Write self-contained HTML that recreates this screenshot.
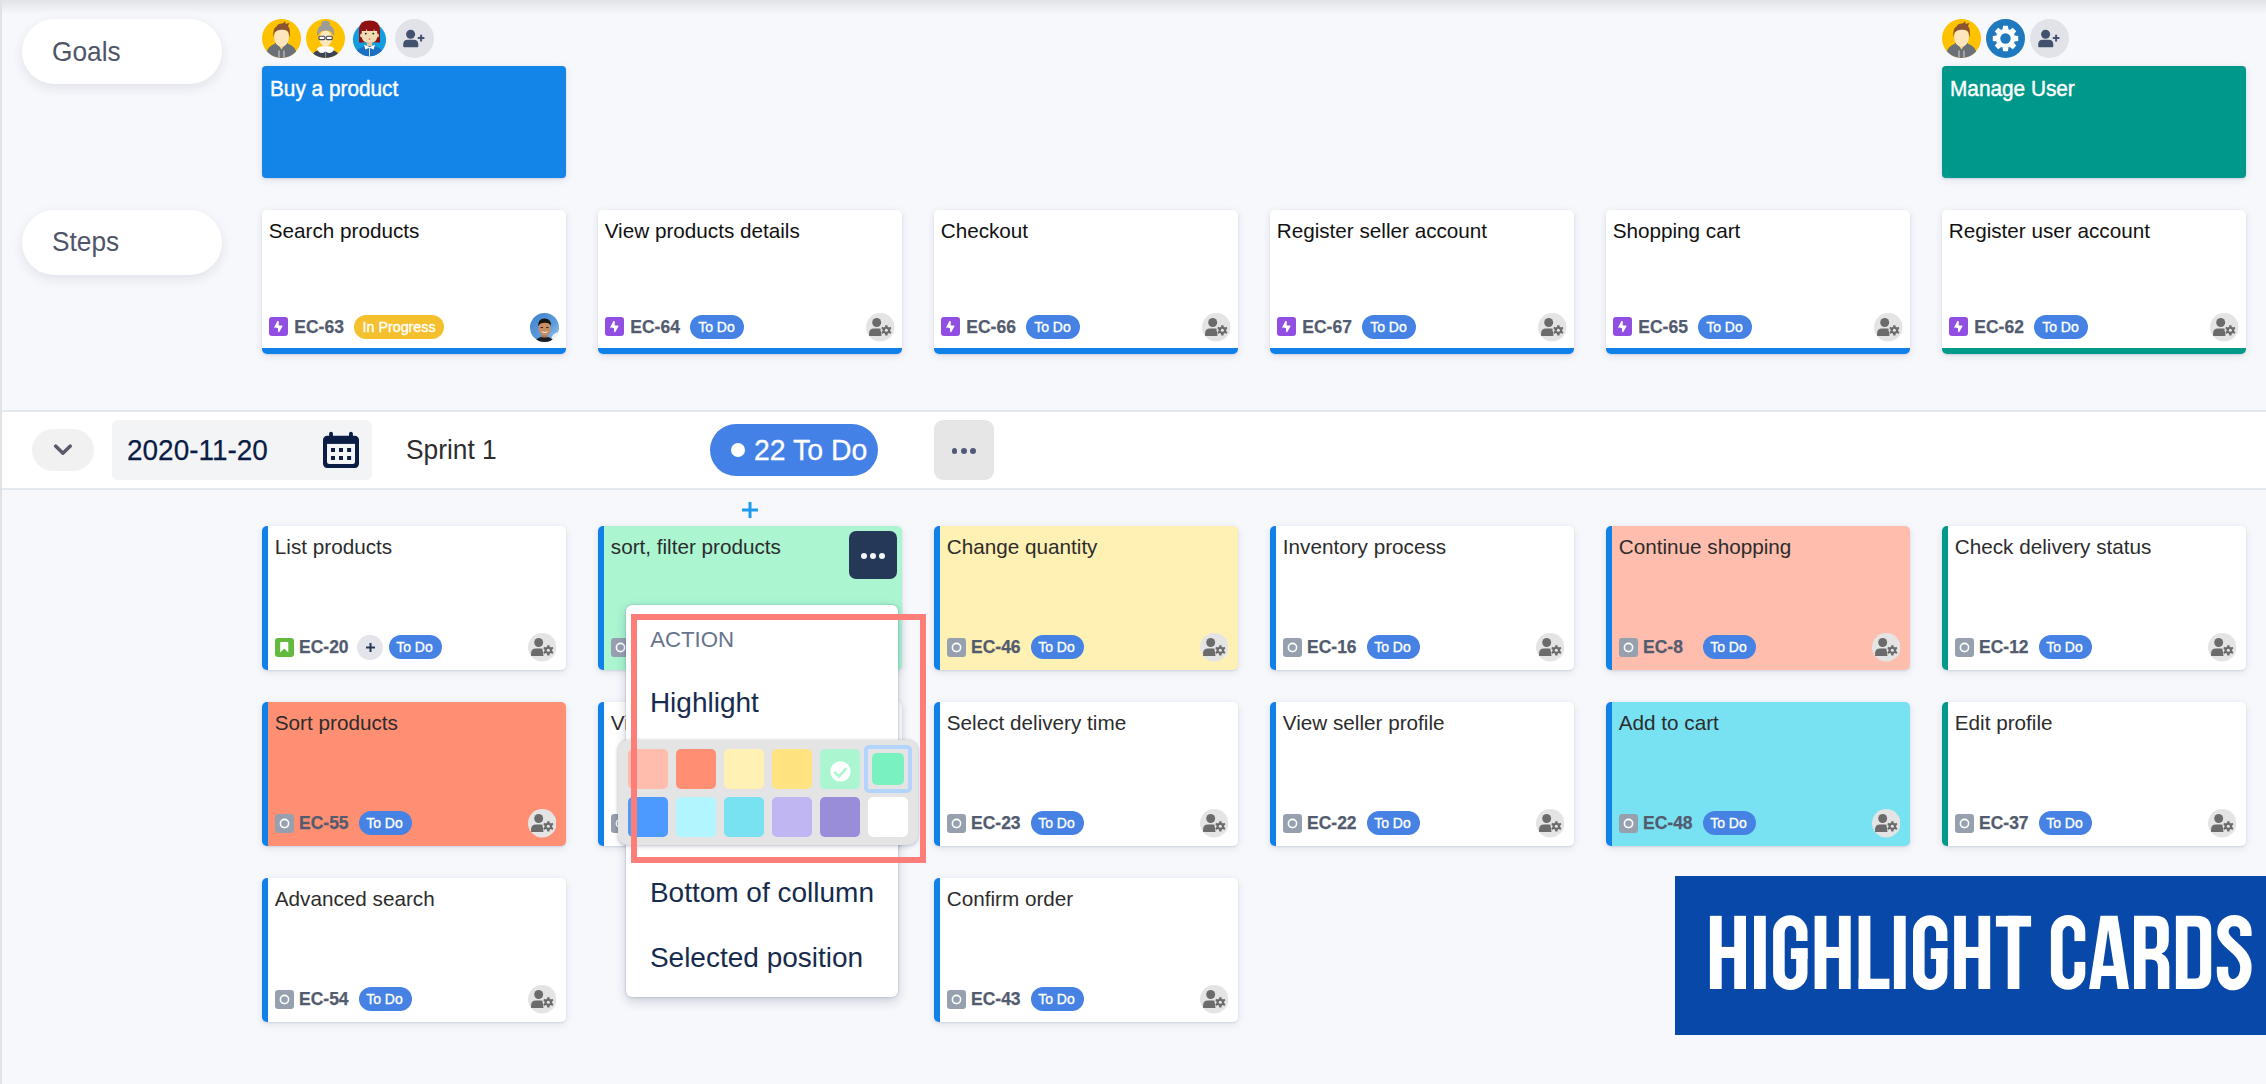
<!DOCTYPE html><html><head><meta charset="utf-8"><title>Story map</title><style>
*{box-sizing:border-box}
html,body{margin:0;padding:0}
body{width:2266px;height:1084px;overflow:hidden;background:#F7F8FC;position:relative;font-family:"Liberation Sans",sans-serif}
.t{position:absolute;line-height:1;white-space:nowrap}
.a{position:absolute;display:block}
.box{position:absolute}
.card{position:absolute;width:304px;height:144px;border-radius:5px;background:#fff;box-shadow:0 1px 2px rgba(9,30,66,.10),0 2px 9px rgba(9,30,66,.10)}
.pill{position:absolute;border-radius:12px;color:#fff;text-align:center;white-space:nowrap;font-family:"Liberation Sans",sans-serif}
.lp{position:absolute;left:22px;width:200px;height:65px;border-radius:33px;background:#fff;box-shadow:0 4px 12px rgba(30,40,80,.10)}

</style></head><body>
<div class="box" style="left:0;top:0;width:2px;height:1084px;background:#E2E2E5"></div>
<div class="box" style="left:2px;top:0;width:2264px;height:14px;background:linear-gradient(#E2E3E7,rgba(247,248,252,0))"></div>
<div class="lp" style="top:19px"></div>
<div class="t" style="left:52.2px;top:37.92px;font-size:27.5px;color:#4F5568;transform-origin:0 0;transform:scaleX(0.955);">Goals</div>
<div class="lp" style="top:210px"></div>
<div class="t" style="left:52.4px;top:227.72px;font-size:27.5px;color:#4F5568;transform-origin:0 0;transform:scaleX(0.955);">Steps</div>
<svg class="a" style="left:262px;top:19px" width="39" height="39" viewBox="0 0 39 39"><defs><clipPath id="c262"><circle cx="19.5" cy="19.5" r="19.5"/></clipPath></defs><g clip-path="url(#c262)"><rect width="39" height="39" fill="#FFC200"/><path d="M3.5 39 L4.5 33 Q6.5 27 12.5 25 L14.5 22.5 L19.5 30.5 L24.5 22.5 L26.5 25 Q32.5 27 34.5 33 L35.5 39 Z" fill="#6B7176"/><path d="M15.2 23.5 L19.5 30.5 L23.8 23.5 L23.8 21 L15.2 21 Z" fill="#F2CC98"/><ellipse cx="19.5" cy="18.4" rx="7.4" ry="9.3" fill="#FDE6BD"/><path d="M11.4 18.5 Q10.3 9.5 14.8 7.2 Q16 4.2 20.5 4.6 L23.2 2.2 L23.6 4.9 L27.4 4.1 L25.9 7.2 Q28.9 9.6 27.6 18.5 L26.6 13.4 Q25 10.3 19.8 10.7 Q14.6 10.7 12.6 13.6 Z" fill="#8A5530"/><path d="M17 31.5 V39 M22 31.5 V39" stroke="#E4E4E4" stroke-width="0.9"/></g></svg>
<svg class="a" style="left:306px;top:19px" width="39" height="39" viewBox="0 0 39 39"><defs><clipPath id="c306"><circle cx="19.5" cy="19.5" r="19.5"/></clipPath></defs><g clip-path="url(#c306)"><rect width="39" height="39" fill="#FFC200"/><path d="M4.5 39 Q6.5 30.5 19.6 29.8 Q32.6 30.5 34.6 39 Z" fill="#3B4254"/><rect x="17" y="24" width="5.2" height="6" fill="#F3D6A4"/><ellipse cx="19.6" cy="19.4" rx="6.3" ry="8" fill="#FCE8BE"/><ellipse cx="19.6" cy="4.9" rx="4.3" ry="3.1" fill="#9B9B9B"/><path d="M11 17 Q10.4 5.6 19.6 5.6 Q28.8 5.6 28.3 17 L26.7 15.2 Q25.4 11.2 19.6 11.6 Q14 11.6 12.7 15.6 Z" fill="#9B9B9B"/><path d="M11 29.6 Q13 26.6 19.6 27.6 Q26.2 26.6 28.2 29.6 Q27.1 34.4 22.6 34 Q20.5 33.6 19.6 32.6 Q18.7 33.6 16.6 34 Q12.1 34.4 11 29.6 Z" fill="#fff"/><path d="M19.6 33 V39" stroke="#C9CCD3" stroke-width="0.6"/><rect x="12.9" y="17.3" width="6.1" height="3.3" rx="1.3" fill="#fff" stroke="#3F4658" stroke-width="1.1"/><rect x="20.2" y="17.3" width="6.1" height="3.3" rx="1.3" fill="#fff" stroke="#3F4658" stroke-width="1.1"/></g></svg>
<svg class="a" style="left:350px;top:19px" width="39" height="39" viewBox="0 0 39 39"><defs><clipPath id="cw350"><circle cx="19.5" cy="20.6" r="16.6"/></clipPath></defs><g clip-path="url(#cw350)"><rect width="39" height="39" fill="#139DDF"/><path d="M3 40 Q5 27.4 19.5 26.5 Q34 27.4 36 40 Z" fill="#1D6FC4"/><rect x="16.8" y="21" width="5.4" height="6" fill="#E3C49A"/><path d="M14 25.8 L19.5 28 L25 25.8 L23.6 30.5 L19.5 28.7 L15.4 30.5 Z" fill="#fff"/><path d="M19.5 28.6 V40" stroke="#fff" stroke-width="0.8"/></g><path d="M9 23.3 L9 11 Q9 1.6 19.5 1.6 Q30 1.6 30 11 L30 23.3 Q28.5 24.2 26.5 23.3 L12.5 23.3 Q10.5 24.2 9 23.3 Z" fill="#8F1111"/><ellipse cx="11.3" cy="16.5" rx="1.2" ry="2" fill="#E9D2A8"/><ellipse cx="27.7" cy="16.5" rx="1.2" ry="2" fill="#E9D2A8"/><path d="M11.8 10 L27.2 10 L27.2 17.4 Q27.2 23.8 19.5 23.8 Q11.8 23.8 11.8 17.4 Z" fill="#F0DCB5"/><path d="M11.4 11.2 Q11.4 4 19.5 4 Q27.6 4 27.6 11.2 L27.6 12 L24.6 12 L24.1 9.4 L23.6 12 L17.2 12 L16.5 9.4 L16 12 L11.4 12 Z" fill="#8F1111"/><circle cx="15.8" cy="14.6" r="0.95" fill="#2A2016"/><circle cx="23.3" cy="14.6" r="0.95" fill="#2A2016"/><circle cx="19.5" cy="20" r="0.85" fill="#E86A5A"/></svg>
<svg class="a" style="left:395px;top:19px" width="39" height="39" viewBox="0 0 39 39"><circle cx="19.5" cy="19.5" r="19.5" fill="#E2E3E9"/><circle cx="15.6" cy="15.2" r="4.5" fill="#42526E"/><path d="M8.2 27.2 L8.2 25.6 Q8.2 20.8 12.6 20.8 L18.9 20.8 Q23.3 20.8 23.3 25.6 L23.3 27.2 Q23.3 28.2 22.3 28.2 L9.2 28.2 Q8.2 28.2 8.2 27.2 Z" fill="#42526E"/><path d="M22.8 19.1 L29.4 19.1 M26.1 15.8 L26.1 22.4" stroke="#42526E" stroke-width="2"/></svg>
<svg class="a" style="left:1942px;top:19px" width="39" height="39" viewBox="0 0 39 39"><defs><clipPath id="c1942"><circle cx="19.5" cy="19.5" r="19.5"/></clipPath></defs><g clip-path="url(#c1942)"><rect width="39" height="39" fill="#FFC200"/><path d="M3.5 39 L4.5 33 Q6.5 27 12.5 25 L14.5 22.5 L19.5 30.5 L24.5 22.5 L26.5 25 Q32.5 27 34.5 33 L35.5 39 Z" fill="#6B7176"/><path d="M15.2 23.5 L19.5 30.5 L23.8 23.5 L23.8 21 L15.2 21 Z" fill="#F2CC98"/><ellipse cx="19.5" cy="18.4" rx="7.4" ry="9.3" fill="#FDE6BD"/><path d="M11.4 18.5 Q10.3 9.5 14.8 7.2 Q16 4.2 20.5 4.6 L23.2 2.2 L23.6 4.9 L27.4 4.1 L25.9 7.2 Q28.9 9.6 27.6 18.5 L26.6 13.4 Q25 10.3 19.8 10.7 Q14.6 10.7 12.6 13.6 Z" fill="#8A5530"/><path d="M17 31.5 V39 M22 31.5 V39" stroke="#E4E4E4" stroke-width="0.9"/></g></svg>
<svg class="a" style="left:1986px;top:19px" width="39" height="39" viewBox="0 0 39 39"><circle cx="19.5" cy="19.5" r="19.5" fill="#1F79BF"/><path d="M16.50 10.50 L17.10 6.80 L21.90 6.80 L22.50 10.50 Z M23.74 11.01 L26.78 8.82 L30.18 12.22 L27.99 15.26 Z M28.50 16.50 L32.20 17.10 L32.20 21.90 L28.50 22.50 Z M27.99 23.74 L30.18 26.78 L26.78 30.18 L23.74 27.99 Z M22.50 28.50 L21.90 32.20 L17.10 32.20 L16.50 28.50 Z M15.26 27.99 L12.22 30.18 L8.82 26.78 L11.01 23.74 Z M10.50 22.50 L6.80 21.90 L6.80 17.10 L10.50 16.50 Z M11.01 15.26 L8.82 12.22 L12.22 8.82 L15.26 11.01 Z" fill="#fff"/><circle cx="19.5" cy="19.5" r="9.7" fill="#fff"/><circle cx="19.5" cy="19.5" r="5.2" fill="#1F79BF"/></svg>
<svg class="a" style="left:2030px;top:19px" width="39" height="39" viewBox="0 0 39 39"><circle cx="19.5" cy="19.5" r="19.5" fill="#E2E3E9"/><circle cx="15.6" cy="15.2" r="4.5" fill="#42526E"/><path d="M8.2 27.2 L8.2 25.6 Q8.2 20.8 12.6 20.8 L18.9 20.8 Q23.3 20.8 23.3 25.6 L23.3 27.2 Q23.3 28.2 22.3 28.2 L9.2 28.2 Q8.2 28.2 8.2 27.2 Z" fill="#42526E"/><path d="M22.8 19.1 L29.4 19.1 M26.1 15.8 L26.1 22.4" stroke="#42526E" stroke-width="2"/></svg>
<div class="card" style="left:262px;top:66px;height:112px;border-radius:4px;background:#1384E8"></div>
<div class="t" style="left:270.0px;top:77.97px;font-size:22.6px;color:#fff;transform-origin:0 0;transform:scaleX(0.92);-webkit-text-stroke:0.45px #fff;">Buy a product</div>
<div class="card" style="left:1942px;top:66px;height:112px;border-radius:4px;background:#00988A"></div>
<div class="t" style="left:1950.3px;top:77.67px;font-size:22.6px;color:#fff;transform-origin:0 0;transform:scaleX(0.92);-webkit-text-stroke:0.45px #fff;">Manage User</div>
<div class="card" style="left:262px;top:210px;border-bottom:6px solid #0F81E8"></div>
<div class="t" style="left:268.7px;top:220.68px;font-size:20.7px;color:#111;">Search products</div>
<svg class="a" style="left:269px;top:317.2px" width="19" height="19" viewBox="0 0 19 19"><rect width="19" height="19" rx="3" fill="#904EE2"/><path d="M8.6 3.8 L5.0 10.4 L8.9 10.9 L9.1 15.0 L10.1 15.2 L13.8 8.8 L9.6 8.3 L9.9 4.4 Z" fill="#fff"/></svg>
<div class="t" style="left:294.3px;top:319.19px;font-size:17.5px;color:#535B6F;font-weight:700;-webkit-text-stroke:0.25px #535B6F;">EC-63</div>
<div class="pill" style="left:354px;top:315px;width:90px;height:24px;background:#F5C02D;font-size:14.9px;line-height:24px;padding-right:0px;-webkit-text-stroke:0.35px #fff"><span style="display:inline-block;transform:scaleX(0.96)">In Progress</span></div>
<svg class="a" style="left:530.0px;top:312.9px" width="29" height="29" viewBox="0 0 29 29"><defs><clipPath id="pc"><circle cx="14.5" cy="14.5" r="14.5"/></clipPath><linearGradient id="sky" x1="0" y1="0" x2="1" y2="1"><stop offset="0" stop-color="#3F82CB"/><stop offset="0.6" stop-color="#5D9CDA"/><stop offset="1" stop-color="#A9CBEA"/></linearGradient></defs><g clip-path="url(#pc)"><rect width="29" height="29" fill="url(#sky)"/><path d="M21 29 Q21 22 25 20.5 Q27 18.5 29.5 19 L29.5 29 Z" fill="#EEF3F8"/><path d="M4.5 29.5 Q6.5 23.8 14.5 23.6 Q22.5 23.8 24 29.5 Z" fill="#1B1E25"/><rect x="11.8" y="19" width="5.4" height="5.5" fill="#B47650"/><ellipse cx="14.6" cy="15.2" rx="6.1" ry="7.4" fill="#C98D64"/><path d="M8.2 13.2 Q7.8 5.6 14.6 5.5 Q21.4 5.6 21 13 Q19.5 9.6 14.8 9.8 Q10 9.8 8.2 13.2 Z" fill="#17130F"/><path d="M10.6 14.6 H13 M16.2 14.6 H18.6" stroke="#2A1C14" stroke-width="1"/><path d="M11.8 18.6 Q14.6 20.4 17.4 18.6" stroke="#F2E6DC" stroke-width="1.1" fill="none"/></g></svg>
<div class="card" style="left:598px;top:210px;border-bottom:6px solid #0F81E8"></div>
<div class="t" style="left:604.7px;top:220.68px;font-size:20.7px;color:#111;">View products details</div>
<svg class="a" style="left:605px;top:317.2px" width="19" height="19" viewBox="0 0 19 19"><rect width="19" height="19" rx="3" fill="#904EE2"/><path d="M8.6 3.8 L5.0 10.4 L8.9 10.9 L9.1 15.0 L10.1 15.2 L13.8 8.8 L9.6 8.3 L9.9 4.4 Z" fill="#fff"/></svg>
<div class="t" style="left:630.3px;top:319.19px;font-size:17.5px;color:#535B6F;font-weight:700;-webkit-text-stroke:0.25px #535B6F;">EC-64</div>
<div class="pill" style="left:690px;top:315px;width:54px;height:24px;background:#4681E4;font-size:14.9px;line-height:24px;padding-right:2px;-webkit-text-stroke:0.35px #fff"><span style="display:inline-block;transform:scaleX(0.94)">To Do</span></div>
<svg class="a" style="left:866.2px;top:313.1px" width="28.5" height="28.5" viewBox="0 0 28 28"><circle cx="14" cy="14" r="14" fill="#E4E4E4"/><circle cx="10.5" cy="9.3" r="4.4" fill="#6B6B6B"/><path d="M3 22.6 L3 20 Q3 15.2 8 15.2 L13.6 15.2 L14.6 16 L15.2 22.6 Z" fill="#6B6B6B"/><g transform="translate(20 17)"><circle r="5.6" fill="#E4E4E4"/><path d="M-1 -5 L1 -5 L1.3 -3.4 L2.6 -2.7 L4 -3.6 L5 -2 L3.8 -0.9 L3.8 0.9 L5 2 L4 3.6 L2.6 2.7 L1.3 3.4 L1 5 L-1 5 L-1.3 3.4 L-2.6 2.7 L-4 3.6 L-5 2 L-3.8 0.9 L-3.8 -0.9 L-5 -2 L-4 -3.6 L-2.6 -2.7 L-1.3 -3.4 Z" fill="#6B6B6B"/><circle r="1.5" fill="#E4E4E4"/></g></svg>
<div class="card" style="left:934px;top:210px;border-bottom:6px solid #0F81E8"></div>
<div class="t" style="left:940.7px;top:220.68px;font-size:20.7px;color:#111;">Checkout</div>
<svg class="a" style="left:941px;top:317.2px" width="19" height="19" viewBox="0 0 19 19"><rect width="19" height="19" rx="3" fill="#904EE2"/><path d="M8.6 3.8 L5.0 10.4 L8.9 10.9 L9.1 15.0 L10.1 15.2 L13.8 8.8 L9.6 8.3 L9.9 4.4 Z" fill="#fff"/></svg>
<div class="t" style="left:966.3px;top:319.19px;font-size:17.5px;color:#535B6F;font-weight:700;-webkit-text-stroke:0.25px #535B6F;">EC-66</div>
<div class="pill" style="left:1026px;top:315px;width:54px;height:24px;background:#4681E4;font-size:14.9px;line-height:24px;padding-right:2px;-webkit-text-stroke:0.35px #fff"><span style="display:inline-block;transform:scaleX(0.94)">To Do</span></div>
<svg class="a" style="left:1202.2px;top:313.1px" width="28.5" height="28.5" viewBox="0 0 28 28"><circle cx="14" cy="14" r="14" fill="#E4E4E4"/><circle cx="10.5" cy="9.3" r="4.4" fill="#6B6B6B"/><path d="M3 22.6 L3 20 Q3 15.2 8 15.2 L13.6 15.2 L14.6 16 L15.2 22.6 Z" fill="#6B6B6B"/><g transform="translate(20 17)"><circle r="5.6" fill="#E4E4E4"/><path d="M-1 -5 L1 -5 L1.3 -3.4 L2.6 -2.7 L4 -3.6 L5 -2 L3.8 -0.9 L3.8 0.9 L5 2 L4 3.6 L2.6 2.7 L1.3 3.4 L1 5 L-1 5 L-1.3 3.4 L-2.6 2.7 L-4 3.6 L-5 2 L-3.8 0.9 L-3.8 -0.9 L-5 -2 L-4 -3.6 L-2.6 -2.7 L-1.3 -3.4 Z" fill="#6B6B6B"/><circle r="1.5" fill="#E4E4E4"/></g></svg>
<div class="card" style="left:1270px;top:210px;border-bottom:6px solid #0F81E8"></div>
<div class="t" style="left:1276.7px;top:220.68px;font-size:20.7px;color:#111;">Register seller account</div>
<svg class="a" style="left:1277px;top:317.2px" width="19" height="19" viewBox="0 0 19 19"><rect width="19" height="19" rx="3" fill="#904EE2"/><path d="M8.6 3.8 L5.0 10.4 L8.9 10.9 L9.1 15.0 L10.1 15.2 L13.8 8.8 L9.6 8.3 L9.9 4.4 Z" fill="#fff"/></svg>
<div class="t" style="left:1302.3px;top:319.19px;font-size:17.5px;color:#535B6F;font-weight:700;-webkit-text-stroke:0.25px #535B6F;">EC-67</div>
<div class="pill" style="left:1362px;top:315px;width:54px;height:24px;background:#4681E4;font-size:14.9px;line-height:24px;padding-right:2px;-webkit-text-stroke:0.35px #fff"><span style="display:inline-block;transform:scaleX(0.94)">To Do</span></div>
<svg class="a" style="left:1538.2px;top:313.1px" width="28.5" height="28.5" viewBox="0 0 28 28"><circle cx="14" cy="14" r="14" fill="#E4E4E4"/><circle cx="10.5" cy="9.3" r="4.4" fill="#6B6B6B"/><path d="M3 22.6 L3 20 Q3 15.2 8 15.2 L13.6 15.2 L14.6 16 L15.2 22.6 Z" fill="#6B6B6B"/><g transform="translate(20 17)"><circle r="5.6" fill="#E4E4E4"/><path d="M-1 -5 L1 -5 L1.3 -3.4 L2.6 -2.7 L4 -3.6 L5 -2 L3.8 -0.9 L3.8 0.9 L5 2 L4 3.6 L2.6 2.7 L1.3 3.4 L1 5 L-1 5 L-1.3 3.4 L-2.6 2.7 L-4 3.6 L-5 2 L-3.8 0.9 L-3.8 -0.9 L-5 -2 L-4 -3.6 L-2.6 -2.7 L-1.3 -3.4 Z" fill="#6B6B6B"/><circle r="1.5" fill="#E4E4E4"/></g></svg>
<div class="card" style="left:1606px;top:210px;border-bottom:6px solid #0F81E8"></div>
<div class="t" style="left:1612.7px;top:220.68px;font-size:20.7px;color:#111;">Shopping cart</div>
<svg class="a" style="left:1613px;top:317.2px" width="19" height="19" viewBox="0 0 19 19"><rect width="19" height="19" rx="3" fill="#904EE2"/><path d="M8.6 3.8 L5.0 10.4 L8.9 10.9 L9.1 15.0 L10.1 15.2 L13.8 8.8 L9.6 8.3 L9.9 4.4 Z" fill="#fff"/></svg>
<div class="t" style="left:1638.3px;top:319.19px;font-size:17.5px;color:#535B6F;font-weight:700;-webkit-text-stroke:0.25px #535B6F;">EC-65</div>
<div class="pill" style="left:1698px;top:315px;width:54px;height:24px;background:#4681E4;font-size:14.9px;line-height:24px;padding-right:2px;-webkit-text-stroke:0.35px #fff"><span style="display:inline-block;transform:scaleX(0.94)">To Do</span></div>
<svg class="a" style="left:1874.2px;top:313.1px" width="28.5" height="28.5" viewBox="0 0 28 28"><circle cx="14" cy="14" r="14" fill="#E4E4E4"/><circle cx="10.5" cy="9.3" r="4.4" fill="#6B6B6B"/><path d="M3 22.6 L3 20 Q3 15.2 8 15.2 L13.6 15.2 L14.6 16 L15.2 22.6 Z" fill="#6B6B6B"/><g transform="translate(20 17)"><circle r="5.6" fill="#E4E4E4"/><path d="M-1 -5 L1 -5 L1.3 -3.4 L2.6 -2.7 L4 -3.6 L5 -2 L3.8 -0.9 L3.8 0.9 L5 2 L4 3.6 L2.6 2.7 L1.3 3.4 L1 5 L-1 5 L-1.3 3.4 L-2.6 2.7 L-4 3.6 L-5 2 L-3.8 0.9 L-3.8 -0.9 L-5 -2 L-4 -3.6 L-2.6 -2.7 L-1.3 -3.4 Z" fill="#6B6B6B"/><circle r="1.5" fill="#E4E4E4"/></g></svg>
<div class="card" style="left:1942px;top:210px;border-bottom:6px solid #00998A"></div>
<div class="t" style="left:1948.7px;top:220.68px;font-size:20.7px;color:#111;">Register user account</div>
<svg class="a" style="left:1949px;top:317.2px" width="19" height="19" viewBox="0 0 19 19"><rect width="19" height="19" rx="3" fill="#904EE2"/><path d="M8.6 3.8 L5.0 10.4 L8.9 10.9 L9.1 15.0 L10.1 15.2 L13.8 8.8 L9.6 8.3 L9.9 4.4 Z" fill="#fff"/></svg>
<div class="t" style="left:1974.3px;top:319.19px;font-size:17.5px;color:#535B6F;font-weight:700;-webkit-text-stroke:0.25px #535B6F;">EC-62</div>
<div class="pill" style="left:2034px;top:315px;width:54px;height:24px;background:#4681E4;font-size:14.9px;line-height:24px;padding-right:2px;-webkit-text-stroke:0.35px #fff"><span style="display:inline-block;transform:scaleX(0.94)">To Do</span></div>
<svg class="a" style="left:2210.2px;top:313.1px" width="28.5" height="28.5" viewBox="0 0 28 28"><circle cx="14" cy="14" r="14" fill="#E4E4E4"/><circle cx="10.5" cy="9.3" r="4.4" fill="#6B6B6B"/><path d="M3 22.6 L3 20 Q3 15.2 8 15.2 L13.6 15.2 L14.6 16 L15.2 22.6 Z" fill="#6B6B6B"/><g transform="translate(20 17)"><circle r="5.6" fill="#E4E4E4"/><path d="M-1 -5 L1 -5 L1.3 -3.4 L2.6 -2.7 L4 -3.6 L5 -2 L3.8 -0.9 L3.8 0.9 L5 2 L4 3.6 L2.6 2.7 L1.3 3.4 L1 5 L-1 5 L-1.3 3.4 L-2.6 2.7 L-4 3.6 L-5 2 L-3.8 0.9 L-3.8 -0.9 L-5 -2 L-4 -3.6 L-2.6 -2.7 L-1.3 -3.4 Z" fill="#6B6B6B"/><circle r="1.5" fill="#E4E4E4"/></g></svg>
<div class="box" style="left:2px;top:410px;width:2264px;height:80px;background:#fff;border-top:2px solid #E3E8F0;border-bottom:2px solid #E3E8F0"></div>
<div class="box" style="left:32px;top:429px;width:62px;height:42px;border-radius:21px;background:#F1F1F2"></div>
<svg class="a" style="left:52px;top:442px" width="22" height="16" viewBox="0 0 22 16"><path d="M3.6 4.1 L10.9 11.2 L18.3 4.1" fill="none" stroke="#595B6B" stroke-width="3.5" stroke-linecap="round" stroke-linejoin="round"/></svg>
<div class="box" style="left:112px;top:420px;width:260px;height:60px;border-radius:6px;background:#F3F4F6"></div>
<div class="t" style="left:127.4px;top:434.89px;font-size:29.9px;color:#0B1D45;transform-origin:0 0;transform:scaleX(0.935);-webkit-text-stroke:0.25px #0B1D45;">2020-11-20</div>
<svg class="a" style="left:323px;top:431px" width="36" height="38" viewBox="0 0 36 38"><rect x="0" y="4.8" width="36" height="32.2" rx="4.2" fill="#0B1D45"/><rect x="6.1" y="0.8" width="3.9" height="8" rx="1.95" fill="#0B1D45"/><rect x="26" y="0.8" width="3.9" height="8" rx="1.95" fill="#0B1D45"/><rect x="4" y="12.9" width="28" height="20.1" rx="2.2" fill="#F3F4F6"/><rect x="4" y="12.9" width="28" height="4" fill="#F3F4F6"/><g fill="#0B1D45"><rect x="8" y="17" width="4" height="4"/><rect x="16" y="17" width="4" height="4"/><rect x="24.1" y="17" width="4" height="4"/><rect x="8" y="25" width="4" height="4"/><rect x="16" y="25" width="4" height="4"/><rect x="24.1" y="25" width="4" height="4"/></g></svg>
<div class="t" style="left:405.8px;top:435.50px;font-size:28px;color:#2E2E2E;transform-origin:0 0;transform:scaleX(0.94);">Sprint 1</div>
<div class="box" style="left:710px;top:424px;width:168px;height:52px;border-radius:26px;background:#4381E6"></div>
<div class="box" style="left:731px;top:443px;width:14px;height:14px;border-radius:7px;background:#fff"></div>
<div class="t" style="left:753.5px;top:435.24px;font-size:29.6px;color:#fff;transform-origin:0 0;transform:scaleX(0.96);-webkit-text-stroke:0.3px #fff;">22 To Do</div>
<div class="box" style="left:934px;top:420px;width:60px;height:60px;border-radius:9px;background:#E6E6E6"></div>
<div class="box" style="left:951.7px;top:448.1px;width:5.8px;height:5.8px;border-radius:3px;background:#505A78"></div>
<div class="box" style="left:961.0px;top:448.1px;width:5.8px;height:5.8px;border-radius:3px;background:#505A78"></div>
<div class="box" style="left:970.0px;top:448.1px;width:5.8px;height:5.8px;border-radius:3px;background:#505A78"></div>
<svg class="a" style="left:742px;top:502px" width="16" height="16" viewBox="0 0 16 16"><path d="M8 0 V16 M0 8 H16" stroke="#1E9BF0" stroke-width="3"/></svg>
<div class="card" style="left:262px;top:526px;background:#fff;border-left:6px solid #0F81E8"></div>
<div class="t" style="left:274.8px;top:536.68px;font-size:20.7px;color:#2C2C2C;">List products</div>
<svg class="a" style="left:275px;top:637.5px" width="19" height="19" viewBox="0 0 19 19"><rect width="19" height="19" rx="3" fill="#63BA3C"/><path d="M5.2 4.6 Q5.2 4 5.8 4 L12.6 4 Q13.3 4 13.3 4.7 L13.3 14.6 L9.3 10.6 L5.2 14.6 Z" fill="#fff"/></svg>
<div class="t" style="left:299.0px;top:639.19px;font-size:17.5px;color:#535B6F;font-weight:700;-webkit-text-stroke:0.25px #535B6F;">EC-20</div>
<div class="box" style="left:357px;top:634.5px;width:25.5px;height:25.5px;border-radius:13px;background:#E4E5EA"></div>
<svg class="a" style="left:365.5px;top:643px" width="9" height="9" viewBox="0 0 9 9"><path d="M4.5 0 V9 M0 4.5 H9" stroke="#253858" stroke-width="2"/></svg>
<div class="pill" style="left:389px;top:635px;width:53px;height:24px;background:#4681E4;font-size:14.9px;line-height:24px;padding-right:2px;-webkit-text-stroke:0.35px #fff"><span style="display:inline-block;transform:scaleX(0.94)">To Do</span></div>
<svg class="a" style="left:527.8px;top:633.1px" width="28.5" height="28.5" viewBox="0 0 28 28"><circle cx="14" cy="14" r="14" fill="#E4E4E4"/><circle cx="10.5" cy="9.3" r="4.4" fill="#6B6B6B"/><path d="M3 22.6 L3 20 Q3 15.2 8 15.2 L13.6 15.2 L14.6 16 L15.2 22.6 Z" fill="#6B6B6B"/><g transform="translate(20 17)"><circle r="5.6" fill="#E4E4E4"/><path d="M-1 -5 L1 -5 L1.3 -3.4 L2.6 -2.7 L4 -3.6 L5 -2 L3.8 -0.9 L3.8 0.9 L5 2 L4 3.6 L2.6 2.7 L1.3 3.4 L1 5 L-1 5 L-1.3 3.4 L-2.6 2.7 L-4 3.6 L-5 2 L-3.8 0.9 L-3.8 -0.9 L-5 -2 L-4 -3.6 L-2.6 -2.7 L-1.3 -3.4 Z" fill="#6B6B6B"/><circle r="1.5" fill="#E4E4E4"/></g></svg>
<div class="card" style="left:598px;top:526px;background:#ABF5D1;border-left:6px solid #0F81E8"></div>
<div class="t" style="left:610.8px;top:536.68px;font-size:20.7px;color:#2C2C2C;">sort, filter products</div>
<svg class="a" style="left:611px;top:637.5px" width="19" height="19" viewBox="0 0 19 19"><rect width="19" height="19" rx="3" fill="#97A0AF"/><circle cx="9.5" cy="9.5" r="4.1" fill="none" stroke="#fff" stroke-width="1.6"/></svg>
<div class="card" style="left:934px;top:526px;background:#FFF0B3;border-left:6px solid #0F81E8"></div>
<div class="t" style="left:946.8px;top:536.68px;font-size:20.7px;color:#2C2C2C;">Change quantity</div>
<svg class="a" style="left:947px;top:637.5px" width="19" height="19" viewBox="0 0 19 19"><rect width="19" height="19" rx="3" fill="#97A0AF"/><circle cx="9.5" cy="9.5" r="4.1" fill="none" stroke="#fff" stroke-width="1.6"/></svg>
<div class="t" style="left:971.0px;top:639.19px;font-size:17.5px;color:#535B6F;font-weight:700;-webkit-text-stroke:0.25px #535B6F;">EC-46</div>
<div class="pill" style="left:1031px;top:635px;width:53px;height:24px;background:#4681E4;font-size:14.9px;line-height:24px;padding-right:2px;-webkit-text-stroke:0.35px #fff"><span style="display:inline-block;transform:scaleX(0.94)">To Do</span></div>
<svg class="a" style="left:1199.8px;top:633.1px" width="28.5" height="28.5" viewBox="0 0 28 28"><circle cx="14" cy="14" r="14" fill="#E4E4E4"/><circle cx="10.5" cy="9.3" r="4.4" fill="#6B6B6B"/><path d="M3 22.6 L3 20 Q3 15.2 8 15.2 L13.6 15.2 L14.6 16 L15.2 22.6 Z" fill="#6B6B6B"/><g transform="translate(20 17)"><circle r="5.6" fill="#E4E4E4"/><path d="M-1 -5 L1 -5 L1.3 -3.4 L2.6 -2.7 L4 -3.6 L5 -2 L3.8 -0.9 L3.8 0.9 L5 2 L4 3.6 L2.6 2.7 L1.3 3.4 L1 5 L-1 5 L-1.3 3.4 L-2.6 2.7 L-4 3.6 L-5 2 L-3.8 0.9 L-3.8 -0.9 L-5 -2 L-4 -3.6 L-2.6 -2.7 L-1.3 -3.4 Z" fill="#6B6B6B"/><circle r="1.5" fill="#E4E4E4"/></g></svg>
<div class="card" style="left:1270px;top:526px;background:#fff;border-left:6px solid #0F81E8"></div>
<div class="t" style="left:1282.8px;top:536.68px;font-size:20.7px;color:#2C2C2C;">Inventory process</div>
<svg class="a" style="left:1283px;top:637.5px" width="19" height="19" viewBox="0 0 19 19"><rect width="19" height="19" rx="3" fill="#97A0AF"/><circle cx="9.5" cy="9.5" r="4.1" fill="none" stroke="#fff" stroke-width="1.6"/></svg>
<div class="t" style="left:1307.0px;top:639.19px;font-size:17.5px;color:#535B6F;font-weight:700;-webkit-text-stroke:0.25px #535B6F;">EC-16</div>
<div class="pill" style="left:1367px;top:635px;width:53px;height:24px;background:#4681E4;font-size:14.9px;line-height:24px;padding-right:2px;-webkit-text-stroke:0.35px #fff"><span style="display:inline-block;transform:scaleX(0.94)">To Do</span></div>
<svg class="a" style="left:1535.8px;top:633.1px" width="28.5" height="28.5" viewBox="0 0 28 28"><circle cx="14" cy="14" r="14" fill="#E4E4E4"/><circle cx="10.5" cy="9.3" r="4.4" fill="#6B6B6B"/><path d="M3 22.6 L3 20 Q3 15.2 8 15.2 L13.6 15.2 L14.6 16 L15.2 22.6 Z" fill="#6B6B6B"/><g transform="translate(20 17)"><circle r="5.6" fill="#E4E4E4"/><path d="M-1 -5 L1 -5 L1.3 -3.4 L2.6 -2.7 L4 -3.6 L5 -2 L3.8 -0.9 L3.8 0.9 L5 2 L4 3.6 L2.6 2.7 L1.3 3.4 L1 5 L-1 5 L-1.3 3.4 L-2.6 2.7 L-4 3.6 L-5 2 L-3.8 0.9 L-3.8 -0.9 L-5 -2 L-4 -3.6 L-2.6 -2.7 L-1.3 -3.4 Z" fill="#6B6B6B"/><circle r="1.5" fill="#E4E4E4"/></g></svg>
<div class="card" style="left:1606px;top:526px;background:#FFBDAD;border-left:6px solid #0F81E8"></div>
<div class="t" style="left:1618.8px;top:536.68px;font-size:20.7px;color:#2C2C2C;">Continue shopping</div>
<svg class="a" style="left:1619px;top:637.5px" width="19" height="19" viewBox="0 0 19 19"><rect width="19" height="19" rx="3" fill="#97A0AF"/><circle cx="9.5" cy="9.5" r="4.1" fill="none" stroke="#fff" stroke-width="1.6"/></svg>
<div class="t" style="left:1643.0px;top:639.19px;font-size:17.5px;color:#535B6F;font-weight:700;-webkit-text-stroke:0.25px #535B6F;">EC-8</div>
<div class="pill" style="left:1703px;top:635px;width:53px;height:24px;background:#4681E4;font-size:14.9px;line-height:24px;padding-right:2px;-webkit-text-stroke:0.35px #fff"><span style="display:inline-block;transform:scaleX(0.94)">To Do</span></div>
<svg class="a" style="left:1871.8px;top:633.1px" width="28.5" height="28.5" viewBox="0 0 28 28"><circle cx="14" cy="14" r="14" fill="#E4E4E4"/><circle cx="10.5" cy="9.3" r="4.4" fill="#6B6B6B"/><path d="M3 22.6 L3 20 Q3 15.2 8 15.2 L13.6 15.2 L14.6 16 L15.2 22.6 Z" fill="#6B6B6B"/><g transform="translate(20 17)"><circle r="5.6" fill="#E4E4E4"/><path d="M-1 -5 L1 -5 L1.3 -3.4 L2.6 -2.7 L4 -3.6 L5 -2 L3.8 -0.9 L3.8 0.9 L5 2 L4 3.6 L2.6 2.7 L1.3 3.4 L1 5 L-1 5 L-1.3 3.4 L-2.6 2.7 L-4 3.6 L-5 2 L-3.8 0.9 L-3.8 -0.9 L-5 -2 L-4 -3.6 L-2.6 -2.7 L-1.3 -3.4 Z" fill="#6B6B6B"/><circle r="1.5" fill="#E4E4E4"/></g></svg>
<div class="card" style="left:1942px;top:526px;background:#fff;border-left:6px solid #00998A"></div>
<div class="t" style="left:1954.8px;top:536.68px;font-size:20.7px;color:#2C2C2C;">Check delivery status</div>
<svg class="a" style="left:1955px;top:637.5px" width="19" height="19" viewBox="0 0 19 19"><rect width="19" height="19" rx="3" fill="#97A0AF"/><circle cx="9.5" cy="9.5" r="4.1" fill="none" stroke="#fff" stroke-width="1.6"/></svg>
<div class="t" style="left:1979.0px;top:639.19px;font-size:17.5px;color:#535B6F;font-weight:700;-webkit-text-stroke:0.25px #535B6F;">EC-12</div>
<div class="pill" style="left:2039px;top:635px;width:53px;height:24px;background:#4681E4;font-size:14.9px;line-height:24px;padding-right:2px;-webkit-text-stroke:0.35px #fff"><span style="display:inline-block;transform:scaleX(0.94)">To Do</span></div>
<svg class="a" style="left:2207.8px;top:633.1px" width="28.5" height="28.5" viewBox="0 0 28 28"><circle cx="14" cy="14" r="14" fill="#E4E4E4"/><circle cx="10.5" cy="9.3" r="4.4" fill="#6B6B6B"/><path d="M3 22.6 L3 20 Q3 15.2 8 15.2 L13.6 15.2 L14.6 16 L15.2 22.6 Z" fill="#6B6B6B"/><g transform="translate(20 17)"><circle r="5.6" fill="#E4E4E4"/><path d="M-1 -5 L1 -5 L1.3 -3.4 L2.6 -2.7 L4 -3.6 L5 -2 L3.8 -0.9 L3.8 0.9 L5 2 L4 3.6 L2.6 2.7 L1.3 3.4 L1 5 L-1 5 L-1.3 3.4 L-2.6 2.7 L-4 3.6 L-5 2 L-3.8 0.9 L-3.8 -0.9 L-5 -2 L-4 -3.6 L-2.6 -2.7 L-1.3 -3.4 Z" fill="#6B6B6B"/><circle r="1.5" fill="#E4E4E4"/></g></svg>
<div class="card" style="left:262px;top:702px;background:#FF8F73;border-left:6px solid #0F81E8"></div>
<div class="t" style="left:274.8px;top:712.68px;font-size:20.7px;color:#2C2C2C;">Sort products</div>
<svg class="a" style="left:275px;top:813.5px" width="19" height="19" viewBox="0 0 19 19"><rect width="19" height="19" rx="3" fill="#97A0AF"/><circle cx="9.5" cy="9.5" r="4.1" fill="none" stroke="#fff" stroke-width="1.6"/></svg>
<div class="t" style="left:299.0px;top:815.19px;font-size:17.5px;color:#535B6F;font-weight:700;-webkit-text-stroke:0.25px #535B6F;">EC-55</div>
<div class="pill" style="left:359px;top:811px;width:53px;height:24px;background:#4681E4;font-size:14.9px;line-height:24px;padding-right:2px;-webkit-text-stroke:0.35px #fff"><span style="display:inline-block;transform:scaleX(0.94)">To Do</span></div>
<svg class="a" style="left:527.8px;top:809.1px" width="28.5" height="28.5" viewBox="0 0 28 28"><circle cx="14" cy="14" r="14" fill="#E4E4E4"/><circle cx="10.5" cy="9.3" r="4.4" fill="#6B6B6B"/><path d="M3 22.6 L3 20 Q3 15.2 8 15.2 L13.6 15.2 L14.6 16 L15.2 22.6 Z" fill="#6B6B6B"/><g transform="translate(20 17)"><circle r="5.6" fill="#E4E4E4"/><path d="M-1 -5 L1 -5 L1.3 -3.4 L2.6 -2.7 L4 -3.6 L5 -2 L3.8 -0.9 L3.8 0.9 L5 2 L4 3.6 L2.6 2.7 L1.3 3.4 L1 5 L-1 5 L-1.3 3.4 L-2.6 2.7 L-4 3.6 L-5 2 L-3.8 0.9 L-3.8 -0.9 L-5 -2 L-4 -3.6 L-2.6 -2.7 L-1.3 -3.4 Z" fill="#6B6B6B"/><circle r="1.5" fill="#E4E4E4"/></g></svg>
<div class="card" style="left:598px;top:702px;background:#fff;border-left:6px solid #0F81E8"></div>
<div class="t" style="left:610.8px;top:712.68px;font-size:20.7px;color:#2C2C2C;">View product</div>
<svg class="a" style="left:611px;top:813.5px" width="19" height="19" viewBox="0 0 19 19"><rect width="19" height="19" rx="3" fill="#97A0AF"/><circle cx="9.5" cy="9.5" r="4.1" fill="none" stroke="#fff" stroke-width="1.6"/></svg>
<div class="card" style="left:934px;top:702px;background:#fff;border-left:6px solid #0F81E8"></div>
<div class="t" style="left:946.8px;top:712.68px;font-size:20.7px;color:#2C2C2C;">Select delivery time</div>
<svg class="a" style="left:947px;top:813.5px" width="19" height="19" viewBox="0 0 19 19"><rect width="19" height="19" rx="3" fill="#97A0AF"/><circle cx="9.5" cy="9.5" r="4.1" fill="none" stroke="#fff" stroke-width="1.6"/></svg>
<div class="t" style="left:971.0px;top:815.19px;font-size:17.5px;color:#535B6F;font-weight:700;-webkit-text-stroke:0.25px #535B6F;">EC-23</div>
<div class="pill" style="left:1031px;top:811px;width:53px;height:24px;background:#4681E4;font-size:14.9px;line-height:24px;padding-right:2px;-webkit-text-stroke:0.35px #fff"><span style="display:inline-block;transform:scaleX(0.94)">To Do</span></div>
<svg class="a" style="left:1199.8px;top:809.1px" width="28.5" height="28.5" viewBox="0 0 28 28"><circle cx="14" cy="14" r="14" fill="#E4E4E4"/><circle cx="10.5" cy="9.3" r="4.4" fill="#6B6B6B"/><path d="M3 22.6 L3 20 Q3 15.2 8 15.2 L13.6 15.2 L14.6 16 L15.2 22.6 Z" fill="#6B6B6B"/><g transform="translate(20 17)"><circle r="5.6" fill="#E4E4E4"/><path d="M-1 -5 L1 -5 L1.3 -3.4 L2.6 -2.7 L4 -3.6 L5 -2 L3.8 -0.9 L3.8 0.9 L5 2 L4 3.6 L2.6 2.7 L1.3 3.4 L1 5 L-1 5 L-1.3 3.4 L-2.6 2.7 L-4 3.6 L-5 2 L-3.8 0.9 L-3.8 -0.9 L-5 -2 L-4 -3.6 L-2.6 -2.7 L-1.3 -3.4 Z" fill="#6B6B6B"/><circle r="1.5" fill="#E4E4E4"/></g></svg>
<div class="card" style="left:1270px;top:702px;background:#fff;border-left:6px solid #0F81E8"></div>
<div class="t" style="left:1282.8px;top:712.68px;font-size:20.7px;color:#2C2C2C;">View seller profile</div>
<svg class="a" style="left:1283px;top:813.5px" width="19" height="19" viewBox="0 0 19 19"><rect width="19" height="19" rx="3" fill="#97A0AF"/><circle cx="9.5" cy="9.5" r="4.1" fill="none" stroke="#fff" stroke-width="1.6"/></svg>
<div class="t" style="left:1307.0px;top:815.19px;font-size:17.5px;color:#535B6F;font-weight:700;-webkit-text-stroke:0.25px #535B6F;">EC-22</div>
<div class="pill" style="left:1367px;top:811px;width:53px;height:24px;background:#4681E4;font-size:14.9px;line-height:24px;padding-right:2px;-webkit-text-stroke:0.35px #fff"><span style="display:inline-block;transform:scaleX(0.94)">To Do</span></div>
<svg class="a" style="left:1535.8px;top:809.1px" width="28.5" height="28.5" viewBox="0 0 28 28"><circle cx="14" cy="14" r="14" fill="#E4E4E4"/><circle cx="10.5" cy="9.3" r="4.4" fill="#6B6B6B"/><path d="M3 22.6 L3 20 Q3 15.2 8 15.2 L13.6 15.2 L14.6 16 L15.2 22.6 Z" fill="#6B6B6B"/><g transform="translate(20 17)"><circle r="5.6" fill="#E4E4E4"/><path d="M-1 -5 L1 -5 L1.3 -3.4 L2.6 -2.7 L4 -3.6 L5 -2 L3.8 -0.9 L3.8 0.9 L5 2 L4 3.6 L2.6 2.7 L1.3 3.4 L1 5 L-1 5 L-1.3 3.4 L-2.6 2.7 L-4 3.6 L-5 2 L-3.8 0.9 L-3.8 -0.9 L-5 -2 L-4 -3.6 L-2.6 -2.7 L-1.3 -3.4 Z" fill="#6B6B6B"/><circle r="1.5" fill="#E4E4E4"/></g></svg>
<div class="card" style="left:1606px;top:702px;background:#79E2F2;border-left:6px solid #0F81E8"></div>
<div class="t" style="left:1618.8px;top:712.68px;font-size:20.7px;color:#2C2C2C;">Add to cart</div>
<svg class="a" style="left:1619px;top:813.5px" width="19" height="19" viewBox="0 0 19 19"><rect width="19" height="19" rx="3" fill="#97A0AF"/><circle cx="9.5" cy="9.5" r="4.1" fill="none" stroke="#fff" stroke-width="1.6"/></svg>
<div class="t" style="left:1643.0px;top:815.19px;font-size:17.5px;color:#535B6F;font-weight:700;-webkit-text-stroke:0.25px #535B6F;">EC-48</div>
<div class="pill" style="left:1703px;top:811px;width:53px;height:24px;background:#4681E4;font-size:14.9px;line-height:24px;padding-right:2px;-webkit-text-stroke:0.35px #fff"><span style="display:inline-block;transform:scaleX(0.94)">To Do</span></div>
<svg class="a" style="left:1871.8px;top:809.1px" width="28.5" height="28.5" viewBox="0 0 28 28"><circle cx="14" cy="14" r="14" fill="#E4E4E4"/><circle cx="10.5" cy="9.3" r="4.4" fill="#6B6B6B"/><path d="M3 22.6 L3 20 Q3 15.2 8 15.2 L13.6 15.2 L14.6 16 L15.2 22.6 Z" fill="#6B6B6B"/><g transform="translate(20 17)"><circle r="5.6" fill="#E4E4E4"/><path d="M-1 -5 L1 -5 L1.3 -3.4 L2.6 -2.7 L4 -3.6 L5 -2 L3.8 -0.9 L3.8 0.9 L5 2 L4 3.6 L2.6 2.7 L1.3 3.4 L1 5 L-1 5 L-1.3 3.4 L-2.6 2.7 L-4 3.6 L-5 2 L-3.8 0.9 L-3.8 -0.9 L-5 -2 L-4 -3.6 L-2.6 -2.7 L-1.3 -3.4 Z" fill="#6B6B6B"/><circle r="1.5" fill="#E4E4E4"/></g></svg>
<div class="card" style="left:1942px;top:702px;background:#fff;border-left:6px solid #00998A"></div>
<div class="t" style="left:1954.8px;top:712.68px;font-size:20.7px;color:#2C2C2C;">Edit profile</div>
<svg class="a" style="left:1955px;top:813.5px" width="19" height="19" viewBox="0 0 19 19"><rect width="19" height="19" rx="3" fill="#97A0AF"/><circle cx="9.5" cy="9.5" r="4.1" fill="none" stroke="#fff" stroke-width="1.6"/></svg>
<div class="t" style="left:1979.0px;top:815.19px;font-size:17.5px;color:#535B6F;font-weight:700;-webkit-text-stroke:0.25px #535B6F;">EC-37</div>
<div class="pill" style="left:2039px;top:811px;width:53px;height:24px;background:#4681E4;font-size:14.9px;line-height:24px;padding-right:2px;-webkit-text-stroke:0.35px #fff"><span style="display:inline-block;transform:scaleX(0.94)">To Do</span></div>
<svg class="a" style="left:2207.8px;top:809.1px" width="28.5" height="28.5" viewBox="0 0 28 28"><circle cx="14" cy="14" r="14" fill="#E4E4E4"/><circle cx="10.5" cy="9.3" r="4.4" fill="#6B6B6B"/><path d="M3 22.6 L3 20 Q3 15.2 8 15.2 L13.6 15.2 L14.6 16 L15.2 22.6 Z" fill="#6B6B6B"/><g transform="translate(20 17)"><circle r="5.6" fill="#E4E4E4"/><path d="M-1 -5 L1 -5 L1.3 -3.4 L2.6 -2.7 L4 -3.6 L5 -2 L3.8 -0.9 L3.8 0.9 L5 2 L4 3.6 L2.6 2.7 L1.3 3.4 L1 5 L-1 5 L-1.3 3.4 L-2.6 2.7 L-4 3.6 L-5 2 L-3.8 0.9 L-3.8 -0.9 L-5 -2 L-4 -3.6 L-2.6 -2.7 L-1.3 -3.4 Z" fill="#6B6B6B"/><circle r="1.5" fill="#E4E4E4"/></g></svg>
<div class="card" style="left:262px;top:878px;background:#fff;border-left:6px solid #0F81E8"></div>
<div class="t" style="left:274.8px;top:888.68px;font-size:20.7px;color:#2C2C2C;">Advanced search</div>
<svg class="a" style="left:275px;top:989.5px" width="19" height="19" viewBox="0 0 19 19"><rect width="19" height="19" rx="3" fill="#97A0AF"/><circle cx="9.5" cy="9.5" r="4.1" fill="none" stroke="#fff" stroke-width="1.6"/></svg>
<div class="t" style="left:299.0px;top:991.19px;font-size:17.5px;color:#535B6F;font-weight:700;-webkit-text-stroke:0.25px #535B6F;">EC-54</div>
<div class="pill" style="left:359px;top:987px;width:53px;height:24px;background:#4681E4;font-size:14.9px;line-height:24px;padding-right:2px;-webkit-text-stroke:0.35px #fff"><span style="display:inline-block;transform:scaleX(0.94)">To Do</span></div>
<svg class="a" style="left:527.8px;top:985.1px" width="28.5" height="28.5" viewBox="0 0 28 28"><circle cx="14" cy="14" r="14" fill="#E4E4E4"/><circle cx="10.5" cy="9.3" r="4.4" fill="#6B6B6B"/><path d="M3 22.6 L3 20 Q3 15.2 8 15.2 L13.6 15.2 L14.6 16 L15.2 22.6 Z" fill="#6B6B6B"/><g transform="translate(20 17)"><circle r="5.6" fill="#E4E4E4"/><path d="M-1 -5 L1 -5 L1.3 -3.4 L2.6 -2.7 L4 -3.6 L5 -2 L3.8 -0.9 L3.8 0.9 L5 2 L4 3.6 L2.6 2.7 L1.3 3.4 L1 5 L-1 5 L-1.3 3.4 L-2.6 2.7 L-4 3.6 L-5 2 L-3.8 0.9 L-3.8 -0.9 L-5 -2 L-4 -3.6 L-2.6 -2.7 L-1.3 -3.4 Z" fill="#6B6B6B"/><circle r="1.5" fill="#E4E4E4"/></g></svg>
<div class="card" style="left:934px;top:878px;background:#fff;border-left:6px solid #0F81E8"></div>
<div class="t" style="left:946.8px;top:888.68px;font-size:20.7px;color:#2C2C2C;">Confirm order</div>
<svg class="a" style="left:947px;top:989.5px" width="19" height="19" viewBox="0 0 19 19"><rect width="19" height="19" rx="3" fill="#97A0AF"/><circle cx="9.5" cy="9.5" r="4.1" fill="none" stroke="#fff" stroke-width="1.6"/></svg>
<div class="t" style="left:971.0px;top:991.19px;font-size:17.5px;color:#535B6F;font-weight:700;-webkit-text-stroke:0.25px #535B6F;">EC-43</div>
<div class="pill" style="left:1031px;top:987px;width:53px;height:24px;background:#4681E4;font-size:14.9px;line-height:24px;padding-right:2px;-webkit-text-stroke:0.35px #fff"><span style="display:inline-block;transform:scaleX(0.94)">To Do</span></div>
<svg class="a" style="left:1199.8px;top:985.1px" width="28.5" height="28.5" viewBox="0 0 28 28"><circle cx="14" cy="14" r="14" fill="#E4E4E4"/><circle cx="10.5" cy="9.3" r="4.4" fill="#6B6B6B"/><path d="M3 22.6 L3 20 Q3 15.2 8 15.2 L13.6 15.2 L14.6 16 L15.2 22.6 Z" fill="#6B6B6B"/><g transform="translate(20 17)"><circle r="5.6" fill="#E4E4E4"/><path d="M-1 -5 L1 -5 L1.3 -3.4 L2.6 -2.7 L4 -3.6 L5 -2 L3.8 -0.9 L3.8 0.9 L5 2 L4 3.6 L2.6 2.7 L1.3 3.4 L1 5 L-1 5 L-1.3 3.4 L-2.6 2.7 L-4 3.6 L-5 2 L-3.8 0.9 L-3.8 -0.9 L-5 -2 L-4 -3.6 L-2.6 -2.7 L-1.3 -3.4 Z" fill="#6B6B6B"/><circle r="1.5" fill="#E4E4E4"/></g></svg>
<div class="box" style="left:849px;top:531px;width:48px;height:48px;border-radius:7px;background:#253858"></div>
<div class="box" style="left:861px;top:553px;width:6px;height:6px;border-radius:3px;background:#F4F5F7"></div>
<div class="box" style="left:870px;top:553px;width:6px;height:6px;border-radius:3px;background:#F4F5F7"></div>
<div class="box" style="left:879px;top:553px;width:6px;height:6px;border-radius:3px;background:#F4F5F7"></div>
<div class="box" style="left:626px;top:605px;width:272px;height:392px;border-radius:6px;background:#fff;box-shadow:0 0 2px rgba(9,30,66,.32),0 4px 12px rgba(9,30,66,.2)"></div>
<div class="t" style="left:650.2px;top:629.01px;font-size:22.2px;color:#67748E;">ACTION</div>
<div class="t" style="left:649.9px;top:689.20px;font-size:28px;color:#172B4D;">Highlight</div>
<div class="t" style="left:649.9px;top:879.40px;font-size:28px;color:#172B4D;">Bottom of collumn</div>
<div class="t" style="left:649.9px;top:943.60px;font-size:28px;color:#172B4D;">Selected position</div>
<div class="box" style="left:618px;top:740px;width:300px;height:105px;border-radius:10px;background:#E4E4E4;box-shadow:0 0 3px rgba(9,30,66,.2),0 2px 5px rgba(9,30,66,.14)"></div>
<div class="box" style="left:628px;top:749px;width:40px;height:40px;border-radius:5px;background:#FFBDAD"></div>
<div class="box" style="left:676px;top:749px;width:40px;height:40px;border-radius:5px;background:#FF8F73"></div>
<div class="box" style="left:724px;top:749px;width:40px;height:40px;border-radius:5px;background:#FFF0B3"></div>
<div class="box" style="left:772px;top:749px;width:40px;height:40px;border-radius:5px;background:#FFE380"></div>
<div class="box" style="left:820px;top:749px;width:40px;height:40px;border-radius:5px;background:#ABF5D1"></div>
<div class="box" style="left:864px;top:745px;width:48px;height:48px;border-radius:5px;border:4px solid #B3D4FF"></div>
<div class="box" style="left:872px;top:753px;width:32px;height:32px;border-radius:5px;background:#79F2C0"></div>
<div class="box" style="left:628px;top:797px;width:40px;height:40px;border-radius:5px;background:#4C9AFF"></div>
<div class="box" style="left:676px;top:797px;width:40px;height:40px;border-radius:5px;background:#B3F5FF"></div>
<div class="box" style="left:724px;top:797px;width:40px;height:40px;border-radius:5px;background:#79E2F2"></div>
<div class="box" style="left:772px;top:797px;width:40px;height:40px;border-radius:5px;background:#C0B6F2"></div>
<div class="box" style="left:820px;top:797px;width:40px;height:40px;border-radius:5px;background:#998DD9"></div>
<div class="box" style="left:868px;top:797px;width:40px;height:40px;border-radius:5px;background:#FFFFFF"></div>
<svg class="a" style="left:830px;top:761px" width="21" height="21" viewBox="0 0 21 21"><circle cx="10.5" cy="10.5" r="10.2" fill="#fff"/><path d="M4.3 10.8 L8.9 15.4 L16.3 7.4" fill="none" stroke="#ABF5D1" stroke-width="2.6"/></svg>
<div class="box" style="left:631px;top:614px;width:295px;height:249px;border:6px solid #FD7D78"></div>
<svg class="a" style="left:1675px;top:876px" width="591" height="159" viewBox="1675 876 591 159"><rect x="1675" y="876" width="591" height="159" fill="#0748A8"/><rect x="1709.9" y="915.8" width="11.80" height="73.20" fill="#fff"/><rect x="1734.2" y="915.8" width="11.80" height="73.20" fill="#fff"/><rect x="1720.9" y="946.9" width="14.00" height="11.10" fill="#fff"/><rect x="1754.0" y="915.8" width="11.80" height="73.20" fill="#fff"/><rect x="1773.1" y="915.3" width="34.40" height="74.60" rx="17.2" ry="16.5" fill="#fff"/><rect x="1784.6999999999998" y="925.7" width="11.50" height="53.40" rx="5.75" ry="7" fill="#0748A8"/><rect x="1793.1" y="941.0" width="14.90" height="7.20" fill="#0748A8"/><rect x="1790.8999999999999" y="948.2" width="16.60" height="10.80" fill="#fff"/><rect x="1814.6" y="915.8" width="11.80" height="73.20" fill="#fff"/><rect x="1838.8999999999999" y="915.8" width="11.80" height="73.20" fill="#fff"/><rect x="1825.6" y="946.9" width="14.00" height="11.10" fill="#fff"/><rect x="1858.6" y="915.8" width="11.80" height="73.20" fill="#fff"/><rect x="1858.6" y="978.7" width="30.80" height="10.30" fill="#fff"/><rect x="1893.9" y="915.8" width="11.80" height="73.20" fill="#fff"/><rect x="1913.0" y="915.3" width="34.40" height="74.60" rx="17.2" ry="16.5" fill="#fff"/><rect x="1924.6" y="925.7" width="11.50" height="53.40" rx="5.75" ry="7" fill="#0748A8"/><rect x="1933.0" y="941.0" width="14.90" height="7.20" fill="#0748A8"/><rect x="1930.8" y="948.2" width="16.60" height="10.80" fill="#fff"/><rect x="1954.1" y="915.8" width="11.80" height="73.20" fill="#fff"/><rect x="1978.3999999999999" y="915.8" width="11.80" height="73.20" fill="#fff"/><rect x="1965.1" y="946.9" width="14.00" height="11.10" fill="#fff"/><rect x="1995.9" y="915.8" width="35.20" height="10.80" fill="#fff"/><rect x="2007.7" y="915.8" width="11.70" height="73.20" fill="#fff"/><rect x="2050.9" y="915.0" width="34.40" height="74.70" rx="17.2" ry="16.5" fill="#fff"/><rect x="2062.6" y="926.1" width="11.80" height="52.90" rx="5.9" ry="7" fill="#0748A8"/><rect x="2071.0" y="941.1" width="15.00" height="20.80" fill="#0748A8"/><path d="M2100.5 915.8 L2117.6 915.8 L2129.0 989.0 L2117.6 989.0 L2115.8 976.0 L2101.4 976.0 L2099.8 989.0 L2089.1 989.0 Z" fill="#fff"/><path d="M2108.1 929.7 L2113.8 965.7 L2102.9 965.7 Z" fill="#0748A8"/><path d="M2134 915.8 L2156 915.8 Q2168.8 915.8 2168.8 930 L2168.8 940.5 Q2168.8 950.5 2161.5 953.6 Q2169.3 957.5 2169.3 967 L2169.3 989.0 L2157.9 989.0 L2157.9 967 Q2157.9 959.6 2151 959.6 L2145.6 959.6 L2145.6 989.0 L2134 989.0 Z" fill="#fff"/><path d="M2145.6 926.6 L2152 926.6 Q2157 926.6 2157 932 L2157 943.5 Q2157 948.8 2152 948.8 L2145.6 948.8 Z" fill="#0748A8"/><path d="M2175.9 915.8 L2197 915.8 Q2211.2 915.8 2211.2 930 L2211.2 975 Q2211.2 989.0 2197 989.0 L2175.9 989.0 Z" fill="#fff"/><path d="M2187.5 926.6 L2195 926.6 Q2200.1 926.6 2200.1 932 L2200.1 973 Q2200.1 978.5 2195 978.5 L2187.5 978.5 Z" fill="#0748A8"/><path d="M2245.9 936.1 L2245.9 932 C2245.9 916.8 2222.9 916.8 2222.9 932 C2222.9 944 2245.9 950 2245.9 967 C2245.9 989.6 2222.5 989.6 2222.5 972 L2222.5 966.7" fill="none" stroke="#fff" stroke-width="11.4"/></svg>
</body></html>
